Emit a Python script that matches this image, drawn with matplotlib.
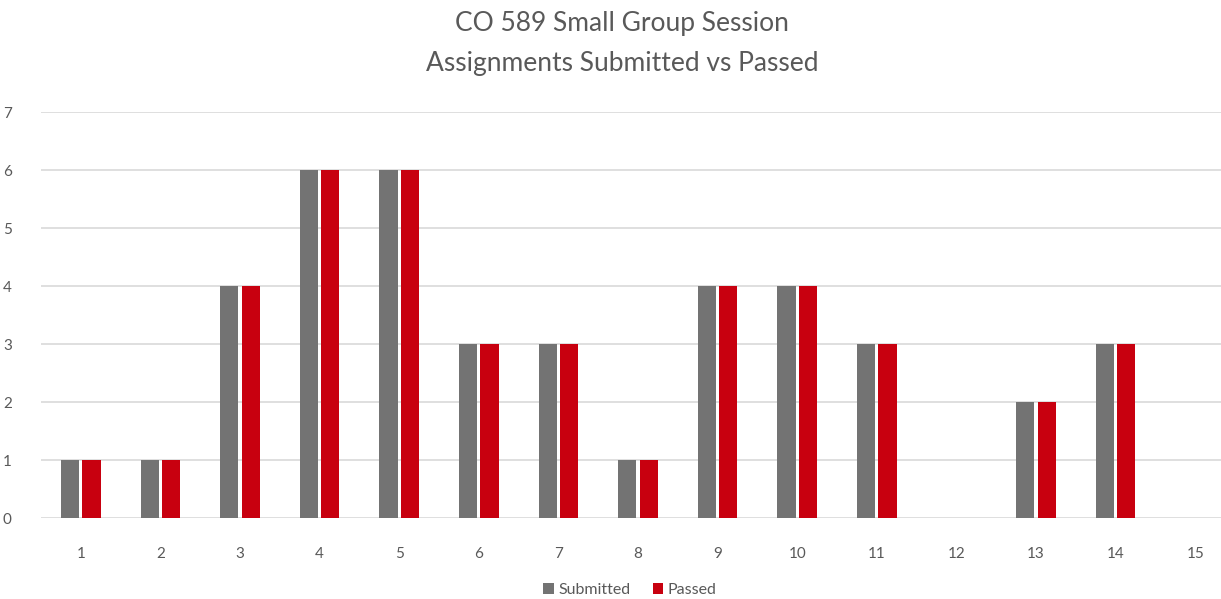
import matplotlib
matplotlib.use('Agg')
import matplotlib.pyplot as plt
import numpy as np

sessions = [str(i) for i in range(1, 16)]
submitted = [1, 1, 4, 6, 6, 3, 3, 1, 4, 4, 3, 0, 2, 3, 0]
passed = [1, 1, 4, 6, 6, 3, 3, 1, 4, 4, 3, 0, 2, 3, 0]

plt.rcParams['font.family'] = ['Lato', 'DejaVu Sans']
txt = '#595959'

fig = plt.figure(figsize=(12.21, 5.99), dpi=100)
W, H = 1221, 599
ax = fig.add_axes([41 / W, (H - 518) / H, (1235 - 41) / W, (518 - 112) / H])

x = np.arange(len(sessions))
bw = 0.23
ax.bar(x - 0.135, submitted, bw, color='#737373', label='Submitted', zorder=3)
ax.bar(x + 0.135, passed, bw, color='#C8000F', label='Passed', zorder=3)

ax.set_xlim(-0.5, 14.5)
ax.set_ylim(0, 7)
ax.set_yticks(range(0, 8))
ax.set_xticks(x)
ax.set_xticklabels(sessions)
ax.yaxis.grid(True, color='#d9d9d9', linewidth=1.2, zorder=0)
for s in ax.spines.values():
    s.set_visible(False)
ax.tick_params(length=0, labelsize=11, labelcolor=txt)
ax.tick_params(axis='x', pad=21)
ax.tick_params(axis='y', pad=21)

fig.text(622 / W, 1 - 24 / H, 'CO 589 Small Group Session', ha='center', va='center',
         fontsize=19, color=txt)
fig.text(622 / W, 1 - 63 / H, 'Assignments Submitted vs Passed', ha='center', va='center',
         fontsize=19, color=txt)

fig.legend(loc='center', bbox_to_anchor=(630 / W, 1 - 590 / H), ncol=2, frameon=False,
           handlelength=0.65, handleheight=0.65, handletextpad=0.3, columnspacing=1.4,
           fontsize=11.5, labelcolor=txt)

fig.savefig('out.png', dpi=100)
